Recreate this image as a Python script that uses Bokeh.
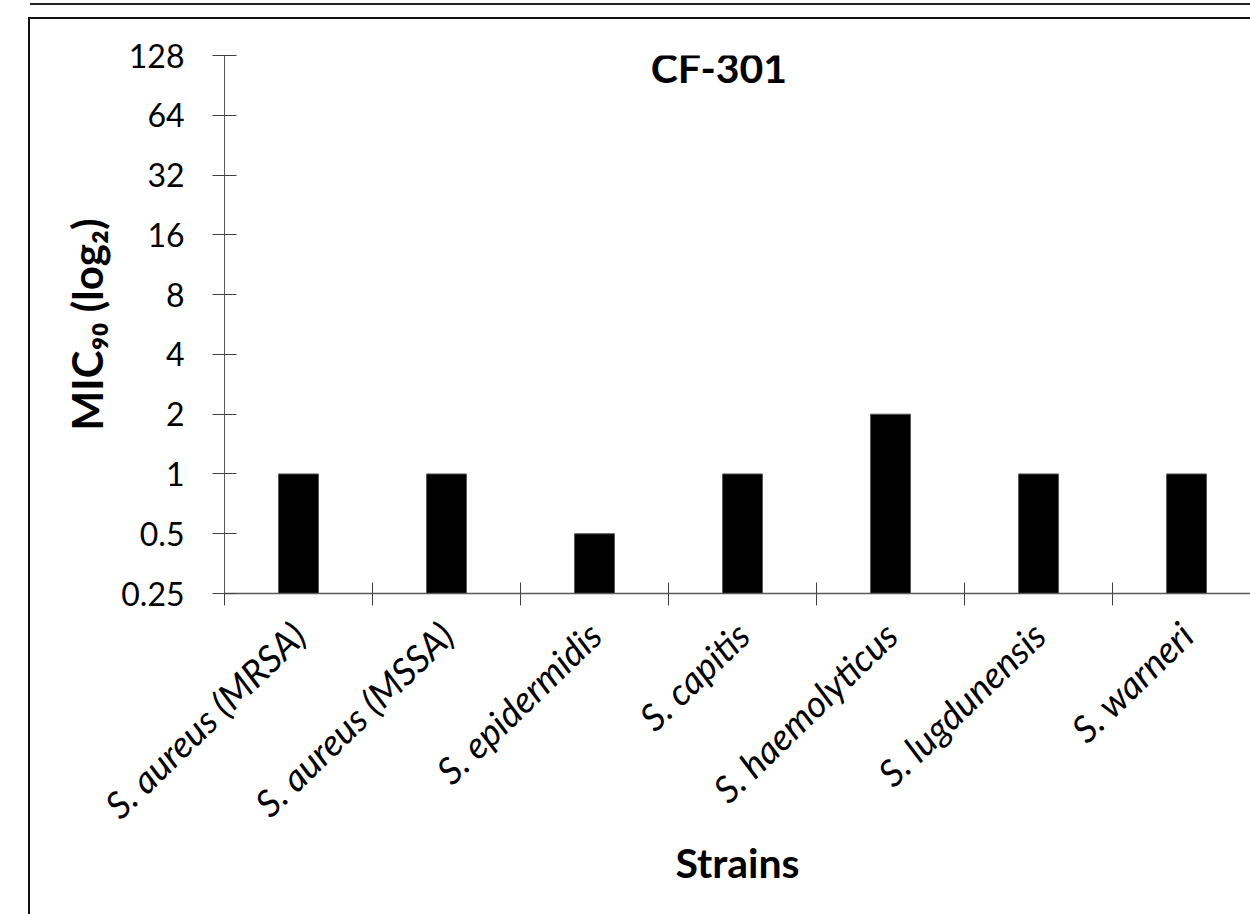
from bokeh.plotting import figure
from bokeh.models import FixedTicker, CustomJSTickFormatter, Range1d, Label
from bokeh.embed import file_html
from bokeh.resources import INLINE

strains = ["S. aureus (MRSA)", "S. aureus (MSSA)", "S. epidermidis", "S. capitis",
           "S. haemolyticus", "S. lugdunensis", "S. warneri"]
mic90 = [1, 1, 0.5, 1, 2, 1, 1]
y_ticks = [0.25, 0.5, 1, 2, 4, 8, 16, 32, 64, 128]
title_text = "CF-301"
x_title = "Strains"
y_title = "MIC\u2089\u2080 (log\u2082)"

centers = [i + 0.5 for i in range(len(strains))]
bounds = list(range(len(strains) + 1))

FONT = "Lato"

p = figure(frame_width=1026, frame_height=538, output_backend="svg", toolbar_location=None,
           y_axis_type="log", x_range=Range1d(0, 6.932), y_range=Range1d(0.25, 128),
           min_border_left=194, min_border_top=36, min_border_bottom=321, min_border_right=0)
p.margin = (19, 0, 0, 30)
p.styles = {"box-shadow": ("-2px 0px 0px 0px #111111, 0px -2px 0px 0px #111111, "
                           "-2px -2px 0px 0px #111111, 0px -14px 0px 0px #ffffff, "
                           "0px -16px 0px 0px #222222")}

p.vbar(x=centers, top=mic90, bottom=0.25, width=0.27, fill_color="black",
       line_color="#595959", line_width=1)

p.xgrid.visible = False
p.ygrid.visible = False
p.outline_line_color = None

# y axis
ya = p.yaxis[0]
ya.ticker = FixedTicker(ticks=y_ticks)
ya.formatter = CustomJSTickFormatter(code="return String(tick)")
ya.major_tick_in = 12
ya.major_tick_out = 12
ya.major_tick_line_color = "#404040"
ya.axis_line_color = "#595959"
ya.major_label_text_font = FONT
ya.major_label_text_font_size = "32px"
ya.major_label_text_color = "black"
ya.major_label_standoff = 28
ya.axis_label = y_title
ya.axis_label_text_font = FONT
ya.axis_label_text_font_style = "bold"
ya.axis_label_text_font_size = "42px"
ya.axis_label_text_color = "black"
ya.axis_label_standoff = 6

# x axis
xa = p.xaxis[0]
xa.ticker = FixedTicker(ticks=centers, minor_ticks=bounds)
xa.formatter = CustomJSTickFormatter(args=dict(labels=strains),
                                     code="return labels[Math.floor(tick)]")
xa.major_tick_in = 0
xa.major_tick_out = 0
xa.minor_tick_in = 11
xa.minor_tick_out = 12
xa.minor_tick_line_color = "#404040"
xa.axis_line_color = "#595959"
xa.axis_line_width = 1.5
xa.major_label_orientation = 0.77
xa.major_label_text_font = FONT
xa.major_label_text_font_style = "italic"
xa.major_label_text_font_size = "37px"
xa.major_label_text_color = "black"
xa.major_label_standoff = 23
xa.axis_label = x_title
xa.axis_label_text_font = FONT
xa.axis_label_text_font_style = "bold"
xa.axis_label_text_font_size = "41px"
xa.axis_label_text_color = "black"
xa.axis_label_standoff = -8

# title inside the frame
t = Label(x=3.34, y=128, text=title_text, text_align="center", text_baseline="top",
          y_offset=13, text_font=FONT, text_font_style="bold", text_font_size="41px",
          text_color="black")
p.add_layout(t)

open("out.html", "w").write(file_html(p, INLINE))
